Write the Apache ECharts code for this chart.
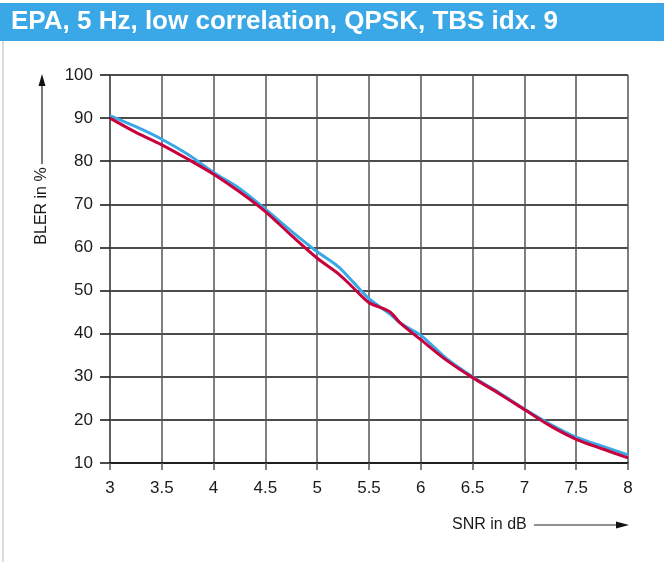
<!DOCTYPE html>
<html>
<head>
<meta charset="utf-8">
<script src="https://cdn.jsdelivr.net/npm/echarts@6/dist/echarts.min.js"></script>
<style>
html,body{margin:0;padding:0;background:#fff;}
#chart{width:664px;height:562px;}
</style>
</head>
<body>
<div id="chart"></div>
<script>
var titleText = 'EPA, 5 Hz, low correlation, QPSK, TBS idx. 9';
var xAxisName = 'SNR in dB';
var yAxisName = 'BLER in %';
var snr = [3, 3.25, 3.5, 3.75, 4, 4.25, 4.5, 4.75, 5, 5.2, 5.35, 5.5, 5.7, 5.8, 6, 6.25, 6.5, 6.75, 7, 7.25, 7.5, 7.75, 8];
var blueBler = [90.6, 88.0, 85.1, 81.6, 77.4, 73.7, 68.9, 63.8, 59.0, 55.6, 51.9, 48.1, 44.6, 42.5, 39.6, 34.2, 30.0, 26.4, 22.5, 19.0, 16.0, 13.9, 11.9];
var redBler = [90.0, 86.7, 83.8, 80.5, 77.0, 72.9, 68.3, 62.8, 57.5, 54.0, 50.6, 47.2, 45.1, 42.5, 38.6, 33.8, 29.8, 26.2, 22.4, 18.6, 15.5, 13.3, 11.2];

function pairs(xs, ys){ return xs.map(function(x,i){ return [x, ys[i]]; }); }

var FONT = '"Liberation Sans", Arial, sans-serif';
var chart = echarts.init(document.getElementById('chart'), null, {renderer:'canvas'});
chart.setOption({
  backgroundColor:'#fff',
  animation:false,
  grid:{left:110, right:36, top:75, bottom:99, containLabel:false},
  xAxis:{
    type:'value', min:3, max:8, interval:0.5,
    axisLine:{show:true, onZero:false, lineStyle:{color:'#111', width:1.5}},
    axisTick:{show:true, inside:false, length:7, lineStyle:{color:'#555', width:1.5}},
    axisLabel:{margin:17, color:'#1a1a1a', fontSize:17, fontFamily:FONT},
    splitLine:{show:true, lineStyle:{color:'#555', width:1.5}}
  },
  yAxis:{
    type:'value', min:10, max:100, interval:10,
    axisLine:{show:true, onZero:false, lineStyle:{color:'#555', width:1.5}},
    axisTick:{show:true, inside:false, length:10, lineStyle:{color:'#111', width:1.5}},
    axisLabel:{margin:17, color:'#1a1a1a', fontSize:17, fontFamily:FONT},
    splitLine:{show:true, lineStyle:{color:'#111', width:1.5}}
  },
  series:[
    {type:'line', data:pairs(snr, blueBler), smooth:0.3, showSymbol:false, lineStyle:{color:'#3aa8e6', width:3}, z:3},
    {type:'line', data:pairs(snr, redBler), smooth:0.3, showSymbol:false, lineStyle:{color:'#c8003c', width:3}, z:4}
  ],
  graphic:[
    {type:'rect', left:0, top:3, shape:{width:664, height:38}, style:{fill:'#3aa8e6'}, silent:true},
    {type:'text', left:11, top:9, style:{text:titleText, fill:'#fff', font:'bold 26px "Liberation Sans", Arial, sans-serif'}},
    {type:'line', shape:{x1:3, y1:41, x2:3, y2:562}, style:{stroke:'#d0d0d0', lineWidth:1.5}},
    {type:'text', x:42, y:206, rotation:Math.PI/2, style:{text:yAxisName, fill:'#1a1a1a', font:'16px ' + FONT, align:'center', verticalAlign:'middle'}},
    {type:'line', shape:{x1:42, y1:164, x2:42, y2:84}, style:{stroke:'#222', lineWidth:1.2}},
    {type:'polygon', shape:{points:[[42,74],[38.5,86],[45.5,86]]}, style:{fill:'#111'}},
    {type:'text', x:452, y:525, style:{text:xAxisName, fill:'#1a1a1a', font:'16px ' + FONT, align:'left', verticalAlign:'middle'}},
    {type:'line', shape:{x1:534, y1:525, x2:617, y2:525}, style:{stroke:'#222', lineWidth:1.2}},
    {type:'polygon', shape:{points:[[629,525],[616,521.5],[616,528.5]]}, style:{fill:'#111'}}
  ]
});
</script>
</body>
</html>
